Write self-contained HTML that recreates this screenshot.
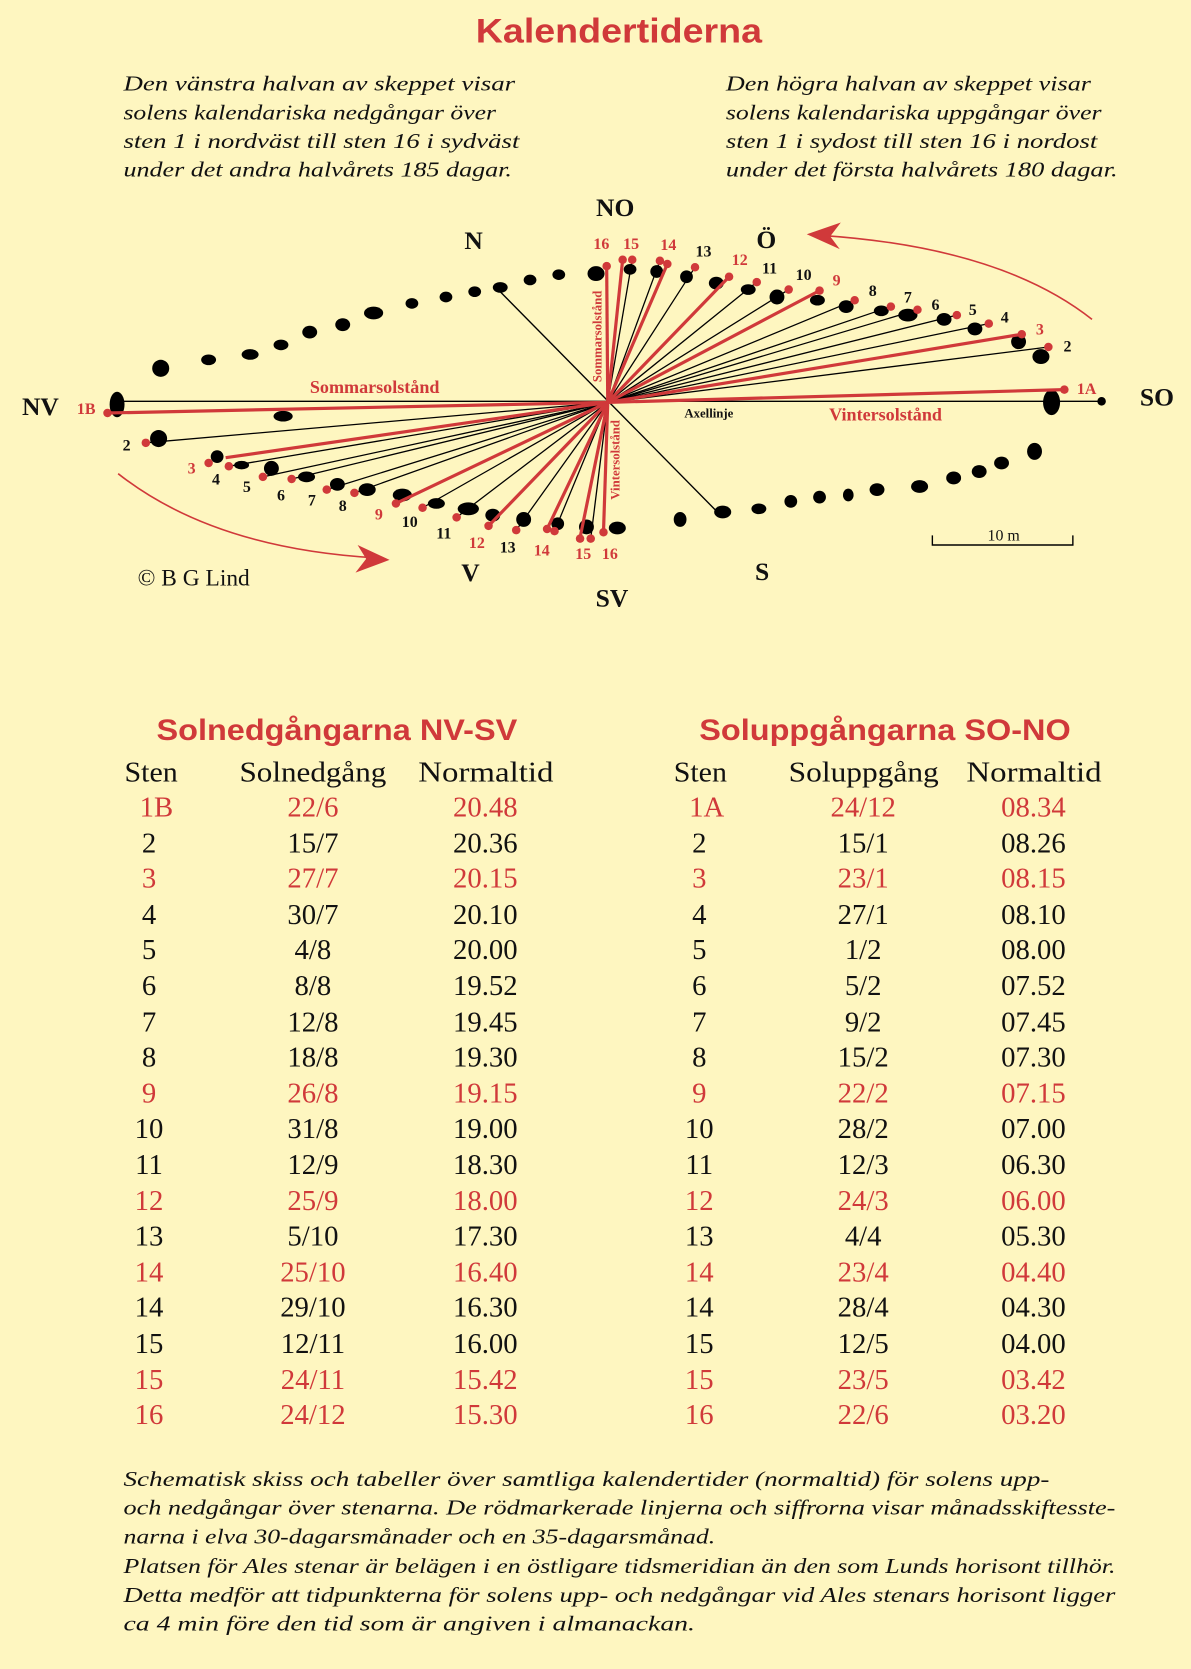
<!DOCTYPE html>
<html><head><meta charset="utf-8"><style>
html,body{margin:0;padding:0;background:#FEF6C0;}
svg{display:block}
.it{font-family:"Liberation Serif",serif;font-style:italic;font-size:20px;fill:#111}
.sr{font-family:"Liberation Serif",serif;fill:#111}
.red{fill:#D0393A}
.hd{font-family:"Liberation Sans",sans-serif;font-weight:bold;fill:#D0393A}
.tb text{transform-box:fill-box;}
</style></head><body>
<svg width="1191" height="1669" viewBox="0 0 1119 1568" xmlns="http://www.w3.org/2000/svg">
<rect width="1119" height="1568" fill="#FEF6C0"/>
<text x="447" y="40" class="hd" font-size="32" textLength="269" lengthAdjust="spacingAndGlyphs">Kalendertiderna</text>
<g class="it">
<text x="116" y="85" textLength="368" lengthAdjust="spacingAndGlyphs">Den vänstra halvan av skeppet visar</text>
<text x="116" y="112" textLength="350" lengthAdjust="spacingAndGlyphs">solens kalendariska nedgångar över</text>
<text x="116" y="139" textLength="372" lengthAdjust="spacingAndGlyphs">sten 1 i nordväst till sten 16 i sydväst</text>
<text x="116" y="166" textLength="365" lengthAdjust="spacingAndGlyphs">under det andra halvårets 185 dagar.</text>
<text x="682" y="85" textLength="343" lengthAdjust="spacingAndGlyphs">Den högra halvan av skeppet visar</text>
<text x="682" y="112" textLength="353" lengthAdjust="spacingAndGlyphs">solens kalendariska uppgångar över</text>
<text x="682" y="139" textLength="349" lengthAdjust="spacingAndGlyphs">sten 1 i sydost till sten 16 i nordost</text>
<text x="682" y="166" textLength="368" lengthAdjust="spacingAndGlyphs">under det första halvårets 180 dagar.</text>
</g>

<g fill="#000">
<ellipse cx="151" cy="346" rx="8" ry="8"/>
<ellipse cx="196" cy="338" rx="7" ry="5"/>
<ellipse cx="235" cy="333" rx="8" ry="5"/>
<ellipse cx="264" cy="324" rx="7" ry="5"/>
<ellipse cx="291" cy="312" rx="7" ry="6"/>
<ellipse cx="322" cy="305" rx="7" ry="6"/>
<ellipse cx="351" cy="294" rx="9" ry="6"/>
<ellipse cx="387" cy="285" rx="6" ry="5"/>
<ellipse cx="419" cy="279" rx="6" ry="5"/>
<ellipse cx="446" cy="274" rx="6" ry="5"/>
<ellipse cx="470" cy="270" rx="7" ry="5"/>
<ellipse cx="498" cy="263" rx="6" ry="5"/>
<ellipse cx="525" cy="258" rx="6" ry="5"/>
<ellipse cx="560" cy="257" rx="8" ry="7"/>
<ellipse cx="592" cy="253" rx="6" ry="5"/>
<ellipse cx="617" cy="255" rx="6" ry="6"/>
<ellipse cx="645" cy="260" rx="6" ry="6"/>
<ellipse cx="673" cy="266" rx="7" ry="6"/>
<ellipse cx="703" cy="272" rx="7" ry="5"/>
<ellipse cx="730" cy="279" rx="7" ry="7"/>
<ellipse cx="768" cy="282" rx="7" ry="5"/>
<ellipse cx="795" cy="288" rx="7" ry="6"/>
<ellipse cx="828" cy="292" rx="7" ry="5"/>
<ellipse cx="853" cy="296" rx="9" ry="6"/>
<ellipse cx="887" cy="300" rx="7" ry="6"/>
<ellipse cx="916" cy="309" rx="7" ry="6"/>
<ellipse cx="957" cy="321" rx="7" ry="7"/>
<ellipse cx="978" cy="335" rx="8" ry="7"/>
<ellipse cx="988" cy="378" rx="8" ry="12"/>
<ellipse cx="110" cy="380" rx="7" ry="12"/>
<ellipse cx="266" cy="391" rx="9" ry="5"/>
<ellipse cx="149" cy="412" rx="8" ry="8"/>
<ellipse cx="204" cy="429" rx="6" ry="6"/>
<ellipse cx="227" cy="437" rx="7" ry="4"/>
<ellipse cx="255" cy="440" rx="7" ry="7"/>
<ellipse cx="288" cy="448" rx="8" ry="5"/>
<ellipse cx="317" cy="455" rx="7" ry="6"/>
<ellipse cx="345" cy="460" rx="8" ry="6"/>
<ellipse cx="378" cy="465" rx="9" ry="6"/>
<ellipse cx="410" cy="473" rx="8" ry="5"/>
<ellipse cx="440" cy="478" rx="10" ry="6"/>
<ellipse cx="463" cy="484" rx="7" ry="6"/>
<ellipse cx="492" cy="488" rx="7" ry="7"/>
<ellipse cx="524" cy="492" rx="6" ry="6"/>
<ellipse cx="551" cy="495" rx="7" ry="7"/>
<ellipse cx="580" cy="496" rx="8" ry="6"/>
<ellipse cx="639" cy="488" rx="6" ry="7"/>
<ellipse cx="679" cy="481" rx="8" ry="6"/>
<ellipse cx="713" cy="478" rx="7" ry="5"/>
<ellipse cx="743" cy="471" rx="6" ry="6"/>
<ellipse cx="770" cy="467" rx="6" ry="6"/>
<ellipse cx="797" cy="465" rx="5" ry="6"/>
<ellipse cx="824" cy="460" rx="7" ry="6"/>
<ellipse cx="864" cy="457" rx="8" ry="6"/>
<ellipse cx="896" cy="449" rx="7" ry="6"/>
<ellipse cx="920" cy="443" rx="7" ry="6"/>
<ellipse cx="941" cy="435" rx="7" ry="6"/>
<ellipse cx="972" cy="424" rx="7" ry="8"/>
</g>

<g stroke="#000" stroke-width="1.3" fill="none">
<line x1="110" y1="377" x2="1035" y2="377"/>
<line x1="467" y1="271" x2="674" y2="481"/>
</g>
<circle cx="1035" cy="377" r="4" fill="#000"/>

<g stroke="#000" stroke-width="1.2">
<line x1="571" y1="378" x2="137" y2="416"/>
<line x1="571" y1="378" x2="215" y2="438"/>
<line x1="571" y1="378" x2="247" y2="448"/>
<line x1="571" y1="378" x2="274" y2="450"/>
<line x1="571" y1="378" x2="307" y2="460"/>
<line x1="571" y1="378" x2="333" y2="463"/>
<line x1="571" y1="378" x2="397" y2="477"/>
<line x1="571" y1="378" x2="429" y2="486"/>
<line x1="571" y1="378" x2="485" y2="498"/>
<line x1="571" y1="378" x2="521" y2="499"/>
<line x1="571" y1="378" x2="555" y2="506"/>
<line x1="571" y1="378" x2="594" y2="244"/>
<line x1="571" y1="378" x2="620" y2="245"/>
<line x1="571" y1="378" x2="653" y2="251"/>
<line x1="571" y1="378" x2="711" y2="265"/>
<line x1="571" y1="378" x2="741" y2="272"/>
<line x1="571" y1="378" x2="803" y2="282"/>
<line x1="571" y1="378" x2="837" y2="288"/>
<line x1="571" y1="378" x2="862" y2="291"/>
<line x1="571" y1="378" x2="899" y2="296"/>
<line x1="571" y1="378" x2="929" y2="304"/>
<line x1="571" y1="378" x2="985" y2="326"/>
</g>
<g stroke="#D0393A" stroke-width="3">
<line x1="571" y1="378" x2="101" y2="388"/>
<line x1="571" y1="378" x2="212" y2="430"/>
<line x1="571" y1="378" x2="372" y2="473"/>
<line x1="571" y1="378" x2="459" y2="494"/>
<line x1="571" y1="378" x2="514" y2="497"/>
<line x1="571" y1="378" x2="545" y2="505"/>
<line x1="571" y1="378" x2="567" y2="500"/>
<line x1="571" y1="378" x2="570" y2="250"/>
<line x1="571" y1="378" x2="585" y2="244"/>
<line x1="571" y1="378" x2="627" y2="248"/>
<line x1="571" y1="378" x2="685" y2="260"/>
<line x1="571" y1="378" x2="770" y2="273"/>
<line x1="571" y1="378" x2="960" y2="314"/>
<line x1="571" y1="378" x2="1000" y2="366"/>
</g>
<g fill="#D0393A">
<circle cx="101" cy="388" r="4"/><circle cx="137" cy="416" r="4"/><circle cx="196" cy="435" r="4"/>
<circle cx="215" cy="438" r="4"/><circle cx="247" cy="448" r="4"/><circle cx="274" cy="450" r="4"/>
<circle cx="307" cy="460" r="4"/><circle cx="333" cy="463" r="4"/><circle cx="372" cy="473" r="4"/>
<circle cx="397" cy="477" r="4"/><circle cx="429" cy="486" r="4"/><circle cx="459" cy="494" r="4"/>
<circle cx="485" cy="498" r="4"/><circle cx="514" cy="497" r="4"/><circle cx="521" cy="499" r="4"/>
<circle cx="545" cy="506" r="4"/><circle cx="555" cy="506" r="4"/><circle cx="567" cy="500" r="4"/>
<circle cx="570" cy="250" r="4"/><circle cx="585" cy="244" r="4"/><circle cx="594" cy="244" r="4"/>
<circle cx="620" cy="245" r="4"/><circle cx="627" cy="248" r="4"/><circle cx="653" cy="251" r="4"/>
<circle cx="685" cy="260" r="4"/><circle cx="711" cy="265" r="4"/><circle cx="741" cy="272" r="4"/>
<circle cx="770" cy="273" r="4"/><circle cx="803" cy="282" r="4"/><circle cx="837" cy="288" r="4"/>
<circle cx="862" cy="291" r="4"/><circle cx="899" cy="296" r="4"/><circle cx="929" cy="304" r="4"/>
<circle cx="960" cy="314" r="4"/><circle cx="985" cy="326" r="4"/><circle cx="1000" cy="366" r="4"/>
</g>

<path d="M1026 300 Q940 232 770 221" stroke="#D0393A" stroke-width="1.5" fill="none"/>
<path d="M758 220 L790 209 L780 222 L789 234 Z" fill="#D0393A"/>
<path d="M111 445 Q200 515 352 524" stroke="#D0393A" stroke-width="1.5" fill="none"/>
<path d="M366 526 L334 538 L344 525 L336 512 Z" fill="#D0393A"/>

<path d="M876 503 V512 H1008 V503" stroke="#000" stroke-width="1.3" fill="none"/>
<text x="943" y="508" text-anchor="middle" class="sr" font-size="15">10 m</text>

<g class="sr" font-weight="bold" font-size="24" text-anchor="middle">
<text x="38" y="390">NV</text>
<text x="1087" y="381">SO</text>
<text x="445" y="234">N</text>
<text x="578" y="203">NO</text>
<text x="720" y="233">Ö</text>
<text x="442" y="546">V</text>
<text x="716" y="545">S</text>
<text x="575" y="570">SV</text>
</g>
<text x="182" y="550" text-anchor="middle" class="sr" font-size="22">© B G Lind</text>
<text x="666" y="392" text-anchor="middle" class="sr" font-size="12" font-weight="bold">Axellinje</text>
<g class="sr red" font-weight="bold">
<text x="352" y="369" text-anchor="middle" font-size="17">Sommarsolstånd</text>
<text x="832" y="395" text-anchor="middle" font-size="17">Vintersolstånd</text>
<text transform="translate(565,316) rotate(-90)" text-anchor="middle" font-size="12">Sommarsolstånd</text>
<text transform="translate(582,432) rotate(-90)" text-anchor="middle" font-size="12">Vintersolstånd</text>
</g>

<g class="sr" font-size="15" text-anchor="middle" font-weight="bold">
<text x="81" y="389" class="red">1B</text>
<text x="119" y="423">2</text>
<text x="180" y="445" class="red">3</text>
<text x="203" y="455">4</text>
<text x="232" y="462">5</text>
<text x="264" y="470">6</text>
<text x="293" y="475">7</text>
<text x="322" y="480">8</text>
<text x="356" y="488" class="red">9</text>
<text x="385" y="495">10</text>
<text x="417" y="506">11</text>
<text x="448" y="515" class="red">12</text>
<text x="477" y="519">13</text>
<text x="509" y="522" class="red">14</text>
<text x="548" y="525" class="red">15</text>
<text x="573" y="525" class="red">16</text>
<text x="565" y="234" class="red">16</text>
<text x="593" y="234" class="red">15</text>
<text x="628" y="235" class="red">14</text>
<text x="661" y="241">13</text>
<text x="695" y="249" class="red">12</text>
<text x="723" y="257">11</text>
<text x="755" y="263">10</text>
<text x="786" y="268" class="red">9</text>
<text x="820" y="278">8</text>
<text x="853" y="284">7</text>
<text x="879" y="291">6</text>
<text x="914" y="296">5</text>
<text x="944" y="303">4</text>
<text x="977" y="314" class="red">3</text>
<text x="1003" y="330">2</text>
<text x="1021" y="370" class="red">1A</text>
</g>

<text x="147" y="695" class="hd" font-size="28" textLength="339" lengthAdjust="spacingAndGlyphs">Solnedgångarna NV-SV</text>
<text x="657" y="695" class="hd" font-size="28" textLength="349" lengthAdjust="spacingAndGlyphs">Soluppgångarna SO-NO</text>
<g class="sr" font-size="27">
<text x="117" y="734" textLength="50" lengthAdjust="spacingAndGlyphs">Sten</text><text x="225" y="734" textLength="138" lengthAdjust="spacingAndGlyphs">Solnedgång</text><text x="393" y="734" textLength="127" lengthAdjust="spacingAndGlyphs">Normaltid</text>
<text x="633" y="734" textLength="50" lengthAdjust="spacingAndGlyphs">Sten</text><text x="741" y="734" textLength="141" lengthAdjust="spacingAndGlyphs">Soluppgång</text><text x="908" y="734" textLength="127" lengthAdjust="spacingAndGlyphs">Normaltid</text>
</g>
<g class="sr" font-size="27" text-anchor="middle">
<g class="red"><text x="147" y="767">1B</text><text x="294" y="767">22/6</text><text x="456" y="767">20.48</text><text x="664" y="767">1A</text><text x="811" y="767">24/12</text><text x="971" y="767">08.34</text></g>
<text x="140" y="801">2</text><text x="294" y="801">15/7</text><text x="456" y="801">20.36</text><text x="657" y="801">2</text><text x="811" y="801">15/1</text><text x="971" y="801">08.26</text>
<g class="red"><text x="140" y="834">3</text><text x="294" y="834">27/7</text><text x="456" y="834">20.15</text><text x="657" y="834">3</text><text x="811" y="834">23/1</text><text x="971" y="834">08.15</text></g>
<text x="140" y="868">4</text><text x="294" y="868">30/7</text><text x="456" y="868">20.10</text><text x="657" y="868">4</text><text x="811" y="868">27/1</text><text x="971" y="868">08.10</text>
<text x="140" y="901">5</text><text x="294" y="901">4/8</text><text x="456" y="901">20.00</text><text x="657" y="901">5</text><text x="811" y="901">1/2</text><text x="971" y="901">08.00</text>
<text x="140" y="935">6</text><text x="294" y="935">8/8</text><text x="456" y="935">19.52</text><text x="657" y="935">6</text><text x="811" y="935">5/2</text><text x="971" y="935">07.52</text>
<text x="140" y="969">7</text><text x="294" y="969">12/8</text><text x="456" y="969">19.45</text><text x="657" y="969">7</text><text x="811" y="969">9/2</text><text x="971" y="969">07.45</text>
<text x="140" y="1002">8</text><text x="294" y="1002">18/8</text><text x="456" y="1002">19.30</text><text x="657" y="1002">8</text><text x="811" y="1002">15/2</text><text x="971" y="1002">07.30</text>
<g class="red"><text x="140" y="1036">9</text><text x="294" y="1036">26/8</text><text x="456" y="1036">19.15</text><text x="657" y="1036">9</text><text x="811" y="1036">22/2</text><text x="971" y="1036">07.15</text></g>
<text x="140" y="1069">10</text><text x="294" y="1069">31/8</text><text x="456" y="1069">19.00</text><text x="657" y="1069">10</text><text x="811" y="1069">28/2</text><text x="971" y="1069">07.00</text>
<text x="140" y="1103">11</text><text x="294" y="1103">12/9</text><text x="456" y="1103">18.30</text><text x="657" y="1103">11</text><text x="811" y="1103">12/3</text><text x="971" y="1103">06.30</text>
<g class="red"><text x="140" y="1137">12</text><text x="294" y="1137">25/9</text><text x="456" y="1137">18.00</text><text x="657" y="1137">12</text><text x="811" y="1137">24/3</text><text x="971" y="1137">06.00</text></g>
<text x="140" y="1170">13</text><text x="294" y="1170">5/10</text><text x="456" y="1170">17.30</text><text x="657" y="1170">13</text><text x="811" y="1170">4/4</text><text x="971" y="1170">05.30</text>
<g class="red"><text x="140" y="1204">14</text><text x="294" y="1204">25/10</text><text x="456" y="1204">16.40</text><text x="657" y="1204">14</text><text x="811" y="1204">23/4</text><text x="971" y="1204">04.40</text></g>
<text x="140" y="1237">14</text><text x="294" y="1237">29/10</text><text x="456" y="1237">16.30</text><text x="657" y="1237">14</text><text x="811" y="1237">28/4</text><text x="971" y="1237">04.30</text>
<text x="140" y="1271">15</text><text x="294" y="1271">12/11</text><text x="456" y="1271">16.00</text><text x="657" y="1271">15</text><text x="811" y="1271">12/5</text><text x="971" y="1271">04.00</text>
<g class="red"><text x="140" y="1305">15</text><text x="294" y="1305">24/11</text><text x="456" y="1305">15.42</text><text x="657" y="1305">15</text><text x="811" y="1305">23/5</text><text x="971" y="1305">03.42</text></g>
<g class="red"><text x="140" y="1338">16</text><text x="294" y="1338">24/12</text><text x="456" y="1338">15.30</text><text x="657" y="1338">16</text><text x="811" y="1338">22/6</text><text x="971" y="1338">03.20</text></g>
</g>

<g class="it">
<text x="116" y="1396" textLength="870" lengthAdjust="spacingAndGlyphs">Schematisk skiss och tabeller över samtliga kalendertider (normaltid) för solens upp-</text>
<text x="116" y="1423" textLength="932" lengthAdjust="spacingAndGlyphs">och nedgångar över stenarna. De rödmarkerade linjerna och siffrorna visar månadsskiftesste-</text>
<text x="116" y="1450" textLength="556" lengthAdjust="spacingAndGlyphs">narna i elva 30-dagarsmånader och en 35-dagarsmånad.</text>
<text x="116" y="1478" textLength="932" lengthAdjust="spacingAndGlyphs">Platsen för Ales stenar är belägen i en östligare tidsmeridian än den som Lunds horisont tillhör.</text>
<text x="116" y="1505" textLength="932" lengthAdjust="spacingAndGlyphs">Detta medför att tidpunkterna för solens upp- och nedgångar vid Ales stenars horisont ligger</text>
<text x="116" y="1532" textLength="537" lengthAdjust="spacingAndGlyphs">ca 4 min före den tid som är angiven i almanackan.</text>
</g>
</svg>
</body></html>
